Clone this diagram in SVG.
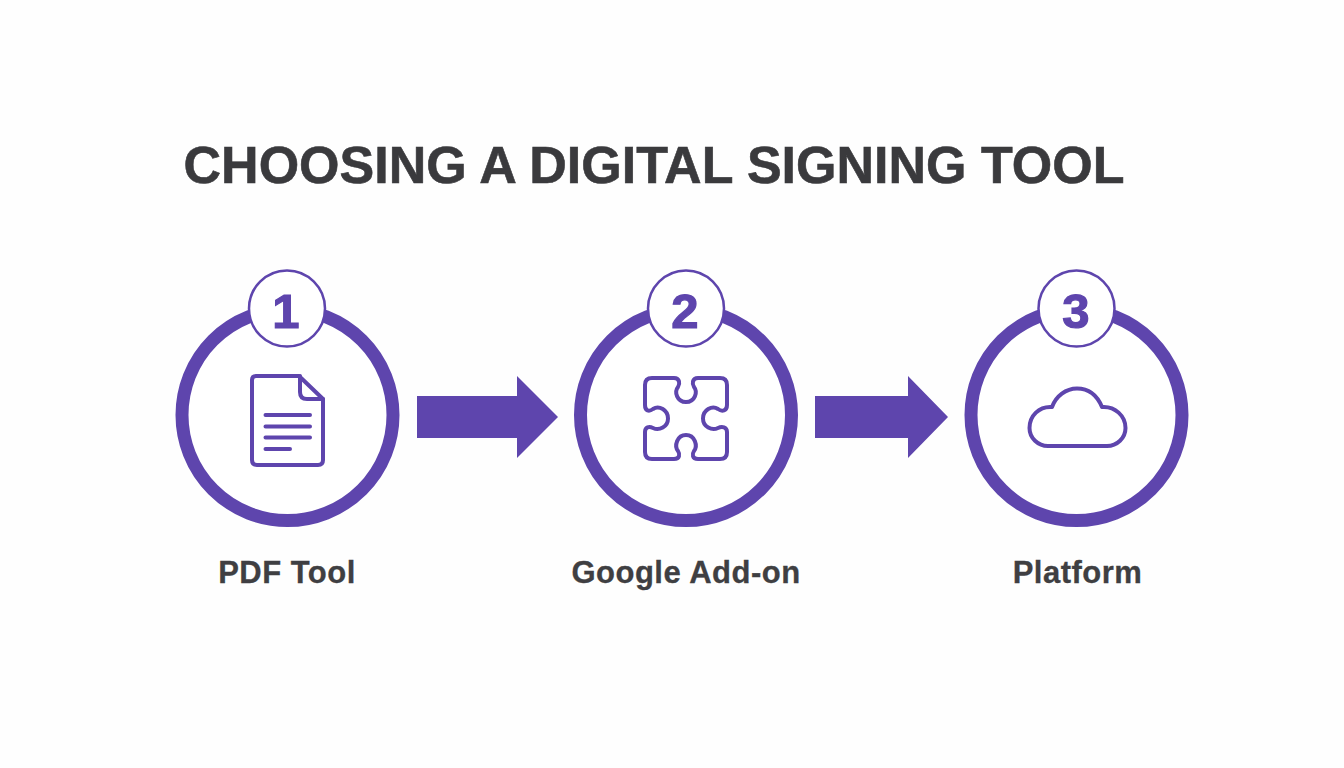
<svg xmlns="http://www.w3.org/2000/svg" width="1344" height="768" viewBox="0 0 1344 768">
<style>
.ring{fill:#fff;stroke:#5e45ad;stroke-width:13}
.badge{fill:#fff;stroke:#5e45ad;stroke-width:2.5}
.num{font:700 49px "Liberation Sans",Arial,sans-serif;fill:#5e45ad;stroke:#5e45ad;stroke-width:1.2;text-anchor:middle}
.label{font:700 31px "Liberation Sans",Arial,sans-serif;fill:#3f3f42;stroke:#3f3f42;stroke-width:.3;letter-spacing:.5px;text-anchor:middle}
.icon{fill:none;stroke:#5e45ad;stroke-width:4;stroke-linejoin:round;stroke-linecap:round}
.arrow{fill:#5e45ad}
</style>
<rect width="1344" height="768" fill="#fefefe"/>
<text id="title" x="654" y="183" font-family="'Liberation Sans',Arial,sans-serif" font-weight="700" font-size="52" fill="#3a3a3d" stroke="#3a3a3d" stroke-width=".6" text-anchor="middle">CHOOSING A DIGITAL SIGNING TOOL</text>
<g id="connectors">
<path class="arrow" d="M417 396H517V376L558 417L517 458V438H417Z"/>
<path class="arrow" d="M815 396H908V376L948 417L908 458V438H815Z"/>
</g>
<g id="node1">
<circle class="ring" cx="287.500" cy="415" r="105.500"/>
<circle class="badge" cx="287" cy="308.500" r="38"/>
<text class="num" x="286" y="327.500">1</text>
<path class="icon" d="M256 376H299L323 399V460Q323 465 318 465H257Q252 465 252 460V380Q252 376 256 376Z"/>
<path class="icon" d="M300 376V392Q300 399 307 399H323"/>
<path class="icon" d="M265.500 415H310M265.500 426.500H310M265.500 437.500H310M265.500 449H290"/>
<text class="label" x="287" y="583">PDF Tool</text>
</g>
<g id="node2">
<circle class="ring" cx="686" cy="415" r="105.500"/>
<circle class="badge" cx="686" cy="308.500" r="38"/>
<text class="num" x="685" y="327.500">2</text>
<path class="icon" d="M652 378H674C680 378 680 384 678 387C674 392 677 402 686 402C695 402 698 392 694 387C692 384 692 378 698 378H720C725 378 727 381 727 385V405C727 411 722 412 718 409C712 405 703 410 703 418.500C703 427 712 431 718 428C722 426 727 427 727 432V452C727 456 725 459 720 459H698C692 459 692 454 694 451C698 446 695 435 686 435C677 435 674 446 678 451C680 454 680 459 674 459H652C647 459 645 456 645 452V432C645 427 649 426 653 428C659 431 668 427 668 418.500C668 410 659 405 653 409C649 412 645 411 645 405V385C645 381 647 378 652 378Z"/>
<text class="label" x="686" y="583">Google Add-on</text>
</g>
<g id="node3">
<circle class="ring" cx="1076.500" cy="415" r="105.500"/>
<circle class="badge" cx="1076.500" cy="308.500" r="38"/>
<text class="num" x="1076" y="327.500">3</text>
<path class="icon" d="M1048 446H1107C1117 446 1125.500 438 1125.500 428C1125.500 416 1115 406 1102 407C1097 395 1088 388.500 1077 388.500C1066 388.500 1056 396 1052 407C1039 406 1029.500 416 1029.500 428C1029.500 438 1038 446 1048 446Z"/>
<text class="label" x="1077.500" y="583">Platform</text>
</g>
</svg>
